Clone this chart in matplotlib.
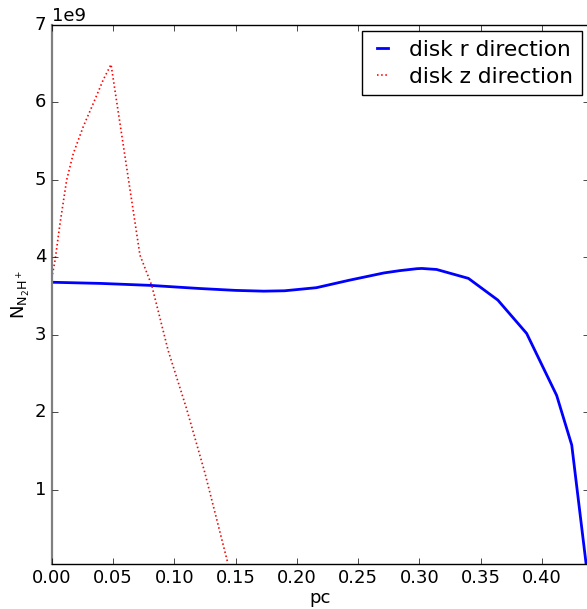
import matplotlib
matplotlib.use('Agg')
import matplotlib.pyplot as plt

plt.style.use('classic')
plt.rcParams['font.size'] = 13
plt.rcParams['mathtext.default'] = 'regular'

# radial profile (pc, column density)
r_pc = [0.0, 0.04, 0.08, 0.12, 0.15, 0.173, 0.19, 0.216, 0.243, 0.271, 0.284,
        0.298, 0.302, 0.314, 0.340, 0.364, 0.3875, 0.412, 0.4243, 0.436]
r_N = [3.68e9, 3.665e9, 3.64e9, 3.60e9, 3.575e9, 3.565e9, 3.57e9, 3.61e9, 3.707e9,
       3.80e9, 3.83e9, 3.855e9, 3.858e9, 3.845e9, 3.73e9, 3.45e9, 3.02e9, 2.22e9,
       1.58e9, 0.05e9]

# vertical profile
z_pc = [0.0, 0.0027, 0.0068, 0.0122, 0.0176, 0.0258, 0.034, 0.042, 0.0484,
        0.072, 0.0816, 0.095, 0.11, 0.125, 0.1438]
z_N = [3.73e9, 3.96e9, 4.44e9, 5.0e9, 5.34e9, 5.69e9, 5.99e9, 6.29e9, 6.49e9,
       4.03e9, 3.64e9, 2.80e9, 2.05e9, 1.22e9, 0.05e9]

fig = plt.figure(figsize=(5.87, 6.09), dpi=100)
ax = fig.add_axes([0.0881, 0.0745, 0.9145, 0.8846])

ax.plot(r_pc, r_N, 'b-', lw=2, label='disk r direction')
ax.plot(z_pc, z_N, color='r', lw=1.2, linestyle=(0, (1.1, 1.9)),
        label='disk z direction')

ax.set_xlim(0, 0.438)
ax.set_ylim(0.05e9, 7e9)
ax.set_xticks([0.0, 0.05, 0.10, 0.15, 0.20, 0.25, 0.30, 0.35, 0.40])
ax.set_yticks([1e9, 2e9, 3e9, 4e9, 5e9, 6e9, 7e9])
ax.set_xlabel('pc', labelpad=1)
ax.set_ylabel(r'$N_{N_2H^+}$', labelpad=2)
ax.spines['left'].set_color('0.5')
ax.spines['left'].set_linewidth(1.6)

ax.legend(loc='upper right', fontsize=15.6, handlelength=1.1,
          handletextpad=0.7, borderaxespad=0.3, labelspacing=0.3)

fig.savefig('out.png', dpi=100)
